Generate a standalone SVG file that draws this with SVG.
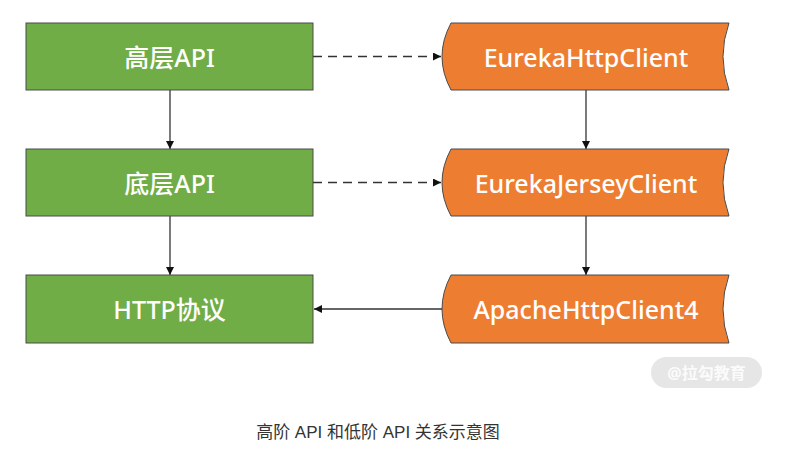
<svg xmlns="http://www.w3.org/2000/svg" width="792" height="456" viewBox="0 0 792 456">
<style>
.g{fill:#70AD47;stroke:#4a4a4a;stroke-width:1}
.o{fill:#ED7D31;stroke:#4a4a4a;stroke-width:1}
.t{fill:#ffffff;font-family:"Noto Sans","Open Sans","Noto Sans CJK SC",sans-serif;font-size:25px;font-weight:500;text-anchor:middle;dominant-baseline:central}
.e{stroke:#333;stroke-width:1.3;fill:none}
.d{stroke-dasharray:9 6}
</style>
<defs>
<marker id="a" viewBox="0 0 10 10" refX="10" refY="5" markerWidth="9" markerHeight="8" markerUnits="userSpaceOnUse" orient="auto">
<path d="M0,0 L10,5 L0,10 z" fill="#111"/>
</marker>
</defs>
<rect width="792" height="456" fill="#fff"/>
<g id="connectors">
<path class="e d" d="M313,56.5 H441" marker-end="url(#a)"/>
<path class="e d" d="M313,182.5 H441" marker-end="url(#a)"/>
<path class="e" d="M170,90 V149" marker-end="url(#a)"/>
<path class="e" d="M170,216 V275" marker-end="url(#a)"/>
<path class="e" d="M586,90 V149" marker-end="url(#a)"/>
<path class="e" d="M586,216 V275" marker-end="url(#a)"/>
<path class="e" d="M442,309 H314" marker-end="url(#a)"/>
</g>
<g id="n1"><rect class="g" x="26" y="23" width="287" height="67"/><text class="t" x="169.5" y="56.5">高层API</text></g>
<g id="n2"><rect class="g" x="26" y="149" width="287" height="67"/><text class="t" x="169.5" y="182.5">底层API</text></g>
<g id="n3"><rect class="g" x="26" y="275" width="287" height="68"/><text class="t" x="169.5" y="309">HTTP协议</text></g>
<g id="n4"><path class="o" d="M451,23 H729 Q717,56.5 729,90 H451 Q433,56.5 451,23 Z"/><text class="t" x="586" y="56.5">EurekaHttpClient</text></g>
<g id="n5"><path class="o" d="M451,149 H729 Q717,182.5 729,216 H451 Q433,182.5 451,149 Z"/><text class="t" x="586" y="182.5">EurekaJerseyClient</text></g>
<g id="n6"><path class="o" d="M451,275 H729 Q717,309 729,343 H451 Q433,309 451,275 Z"/><text class="t" x="586" y="309">ApacheHttpClient4</text></g>
<g id="watermark"><rect x="651" y="357" width="111" height="31" rx="15.5" fill="#e6e6e6"/><text x="706.5" y="372.5" fill="#fbfbfb" font-family="'Noto Sans','Noto Sans CJK SC',sans-serif" font-size="16" font-weight="bold" text-anchor="middle" dominant-baseline="central">@拉勾教育</text></g>
<text x="378" y="432" fill="#333" font-family="'Liberation Sans','Noto Sans CJK SC',sans-serif" font-size="17" text-anchor="middle" dominant-baseline="central">高阶 API 和低阶 API 关系示意图</text>
</svg>
